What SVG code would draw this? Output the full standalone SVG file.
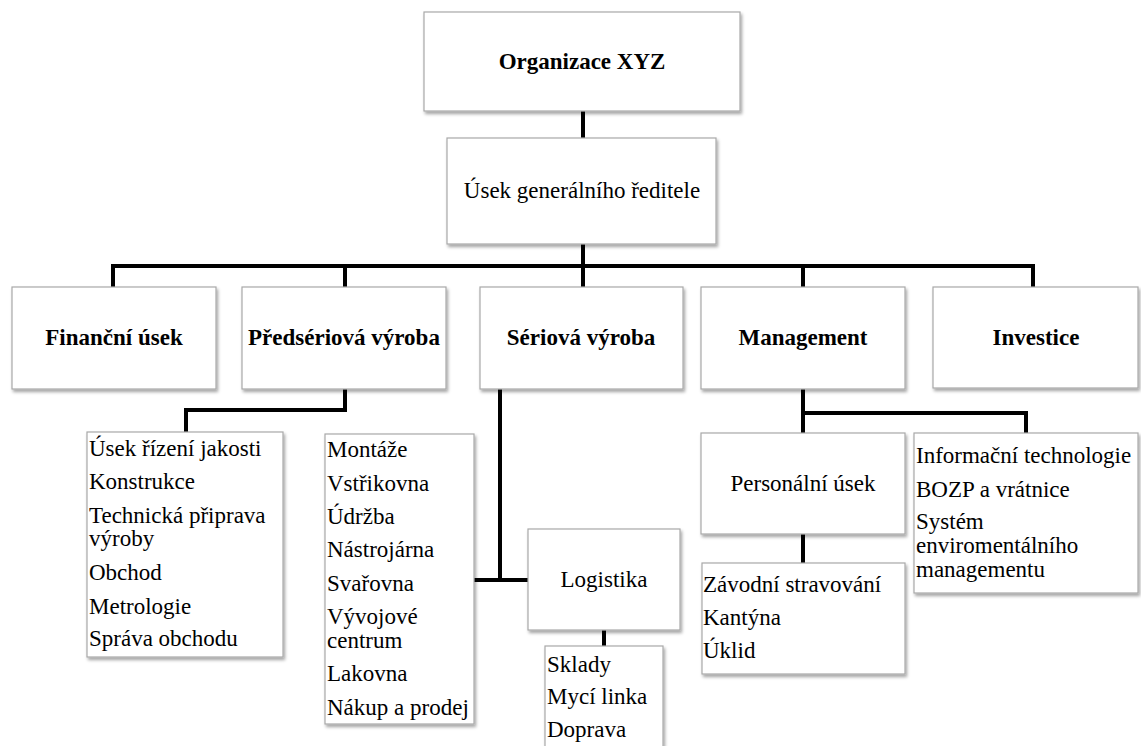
<svg xmlns="http://www.w3.org/2000/svg" width="1141" height="746" viewBox="0 0 1141 746">
  <defs>
    <filter id="shadow" x="-10%" y="-10%" width="125%" height="130%">
      <feDropShadow dx="1.5" dy="2.5" stdDeviation="1.5" flood-color="#000" flood-opacity="0.35"/>
    </filter>
  </defs>
  <style>
    .box { fill: #fff; stroke: #a8a8a8; stroke-width: 1.2; filter: url(#shadow); }
    .conn { fill: none; stroke: #000; stroke-width: 4; stroke-linejoin: miter; stroke-linecap: square; }
    text { font-family: "Liberation Serif", "Times New Roman", serif; font-size: 23px; fill: #000; }
    .b { font-weight: bold; text-anchor: middle; }
    .c { text-anchor: middle; }
  </style>
  <rect width="1141" height="746" fill="#fff"/>

  <!-- connectors -->
  <g id="connectors">
    <path class="conn" d="M583 111 V138"/>
    <path class="conn" d="M583 244 V287"/>
    <path class="conn" d="M113 266 H1033"/>
    <path class="conn" d="M113 266 V287 M345 266 V287 M803 266 V287 M1033 266 V287"/>
    <path class="conn" d="M345 389 V410 H186 V432"/>
    <path class="conn" d="M500 389 V580"/>
    <path class="conn" d="M475 580 H528"/>
    <path class="conn" d="M604 630 V646"/>
    <path class="conn" d="M803 389 V433 M803 413 H1026 V433"/>
    <path class="conn" d="M803 534 V563"/>
  </g>

  <g id="organizace">
    <rect class="box" x="424" y="12" width="316" height="99"/>
    <text class="b" x="582" y="69">Organizace XYZ</text>
  </g>
  <g id="usek-gen">
    <rect class="box" x="447" y="138" width="269" height="106"/>
    <text class="c" x="582" y="198">Úsek generálního ředitele</text>
  </g>

  <g id="financni">
    <rect class="box" x="12" y="287" width="204" height="102"/>
    <text class="b" x="114" y="345">Finanční úsek</text>
  </g>
  <g id="predseriova">
    <rect class="box" x="242" y="287" width="204" height="102"/>
    <text class="b" x="344" y="345">Předsériová výroba</text>
  </g>
  <g id="seriova">
    <rect class="box" x="480" y="287" width="203" height="102"/>
    <text class="b" x="581" y="345">Sériová výroba</text>
  </g>
  <g id="management">
    <rect class="box" x="701" y="287" width="204" height="102"/>
    <text class="b" x="803" y="345">Management</text>
  </g>
  <g id="investice">
    <rect class="box" x="933" y="287" width="205" height="101"/>
    <text class="b" x="1036" y="345">Investice</text>
  </g>

  <g id="predseriova-list">
    <rect class="box" x="87" y="432" width="196" height="225"/>
    <text x="89" y="456">Úsek řízení jakosti</text>
    <text x="89" y="489">Konstrukce</text>
    <text x="89" y="523">Technická připrava</text>
    <text x="89" y="546">výroby</text>
    <text x="89" y="580">Obchod</text>
    <text x="89" y="614">Metrologie</text>
    <text x="89" y="646">Správa obchodu</text>
  </g>

  <g id="seriova-list">
    <rect class="box" x="325" y="434" width="149" height="290"/>
    <text x="327" y="457">Montáže</text>
    <text x="327" y="491">Vstřikovna</text>
    <text x="327" y="524">Údržba</text>
    <text x="327" y="557">Nástrojárna</text>
    <text x="327" y="591">Svařovna</text>
    <text x="327" y="624">Vývojové</text>
    <text x="327" y="648">centrum</text>
    <text x="327" y="681">Lakovna</text>
    <text x="327" y="715">Nákup a prodej</text>
  </g>

  <g id="logistika">
    <rect class="box" x="528" y="529" width="152" height="101"/>
    <text class="c" x="604" y="587">Logistika</text>
  </g>
  <g id="logistika-list">
    <rect class="box" x="545" y="646" width="118" height="110"/>
    <text x="547" y="672">Sklady</text>
    <text x="547" y="704">Mycí linka</text>
    <text x="547" y="737">Doprava</text>
  </g>

  <g id="personalni">
    <rect class="box" x="701" y="433" width="204" height="101"/>
    <text class="c" x="803" y="491">Personální úsek</text>
  </g>
  <g id="personalni-list">
    <rect class="box" x="702" y="563" width="203" height="111"/>
    <text x="703" y="592">Závodní stravování</text>
    <text x="703" y="625">Kantýna</text>
    <text x="703" y="658">Úklid</text>
  </g>

  <g id="management-list">
    <rect class="box" x="914" y="433" width="224" height="160"/>
    <text x="916" y="463">Informační technologie</text>
    <text x="916" y="497">BOZP a vrátnice</text>
    <text x="916" y="529">Systém</text>
    <text x="916" y="553">enviromentálního</text>
    <text x="916" y="577">managementu</text>
  </g>
</svg>
